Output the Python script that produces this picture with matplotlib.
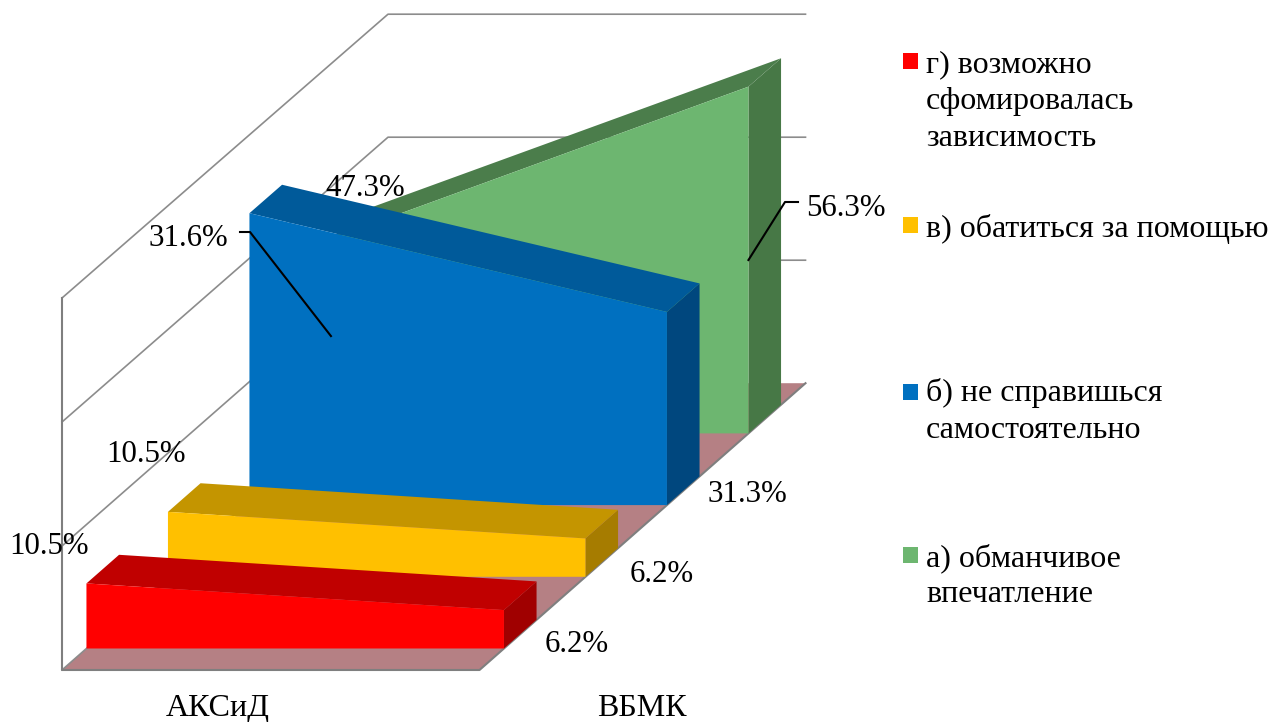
import matplotlib
matplotlib.use('Agg')
import matplotlib.pyplot as plt
from matplotlib.patches import Polygon, Rectangle

plt.rcParams['font.family'] = ['Liberation Serif', 'DejaVu Serif']

categories = ['АКСиД', 'ВБМК']
# front to back
series_names = ['г) возможно\nсфомировалась\nзависимость',
                'в) обатиться за помощью',
                'б) не справишься\nсамостоятельно',
                'а) обманчивое\nвпечатление']
values_first = [10.5, 10.5, 47.3, 31.6]
values_second = [6.2, 6.2, 31.3, 56.3]
front_colors = ['#FF0000', '#FFC000', '#0070C0', '#6DB670']
top_colors = ['#C00000', '#C49500', '#005A9A', '#4B7D4B']
side_colors = ['#A00000', '#A67C00', '#00477E', '#477846']
grid_ticks = [0, 20, 40, 60]

# oblique projection of the 3d box, all in pixels
ORIGIN_X, ORIGIN_Y = 62, 670
CAT_WIDTH = 417.5
DEPTH_X, DEPTH_Y = 81.5, -71.7
PX_PER_UNIT = 6.2
PX_SHRINK = 0.0125  # vertical scale drops a little towards the back
BAND_LO, BAND_HI = 0.3, 0.7


def project(cat, z, value):
    x = ORIGIN_X + cat * CAT_WIDTH + z * DEPTH_X
    y = ORIGIN_Y + z * DEPTH_Y - value * (PX_PER_UNIT - PX_SHRINK * z)
    return x, y


fig = plt.figure(figsize=(12.73, 7.22), dpi=100)
ax = fig.add_axes([0, 0, 1, 1])
ax.set_xlim(0, 1273)
ax.set_ylim(722, 0)
ax.axis('off')

n = len(series_names)

# floor
ax.add_patch(Polygon([project(0, 0, 0), project(1, 0, 0), project(1, n, 0), project(0, n, 0)],
                     fc='#B58084', ec='none', zorder=1))

# walls and gridlines
for t in grid_ticks[1:]:
    ax.plot(*zip(project(0, 0, t), project(0, n, t), project(1, n, t)), color='#8C8C8C', lw=1.2, zorder=1)
ax.plot(*zip(project(0, 0, 60), project(0, 0, 0), project(1, 0, 0), project(1, n, 0)),
        color='#7F7F7F', lw=1.5, zorder=2)
ax.plot(*zip(project(0, 0, 0), project(0, n, 0)), color='#8C8C8C', lw=1.2, zorder=1)

# back series first so the nearer ones cover it
for i in reversed(range(n)):
    a, b = values_first[i], values_second[i]
    z0, z1 = i + BAND_LO, i + BAND_HI
    zo = 3 + (n - i)
    ax.add_patch(Polygon([project(1, z0, 0), project(1, z1, 0), project(1, z1, b), project(1, z0, b)],
                         fc=side_colors[i], ec='none', zorder=zo))
    ax.add_patch(Polygon([project(0, z0, a), project(1, z0, b), project(1, z1, b), project(0, z1, a)],
                         fc=top_colors[i], ec='none', zorder=zo))
    ax.add_patch(Polygon([project(0, z0, 0), project(1, z0, 0), project(1, z0, b), project(0, z0, a)],
                         fc=front_colors[i], ec='none', zorder=zo))

# leader lines for the two green labels
lx, ly = project(0, 3 + BAND_LO, values_first[3] / 2)
ax.plot([240, 250, lx], [232, 232, ly], color='black', lw=1.5, zorder=20)
rx, ry = project(1, 3 + BAND_LO, values_second[3] / 2)
ax.plot([rx, 785, 798], [ry, 202, 202], color='black', lw=1.5, zorder=20)

FS = 23
LABEL_FS = 22.2
label_first_pos = [(49, 547), (146, 455), (365, 188), (188, 239)]
label_second_pos = [(577, 644), (662, 575), (747, 494), (846, 208)]
for i in range(n):
    ax.text(*label_first_pos[i], f'{values_first[i]}%', fontsize=LABEL_FS, ha='center', va='center', zorder=30)
    ax.text(*label_second_pos[i], f'{values_second[i]}%', fontsize=LABEL_FS, ha='center', va='center', zorder=30)

# category labels under the front edge
ax.text(218, 716, categories[0], fontsize=FS, ha='center', va='baseline')
ax.text(642, 716, categories[1], fontsize=FS, ha='center', va='baseline')

# legend, one baseline per line of text
legend_marker_y = [61, 225, 392, 555]
legend_baselines = [[72, 109, 146], [237], [401, 438], [566, 602]]
for i in range(n):
    ax.add_patch(Rectangle((903, legend_marker_y[i] - 8), 15, 16, fc=front_colors[i], ec='none'))
    for line, base in zip(series_names[i].split('\n'), legend_baselines[i]):
        ax.text(926, base, line, fontsize=FS, ha='left', va='baseline')

fig.savefig('out.png', dpi=100)
